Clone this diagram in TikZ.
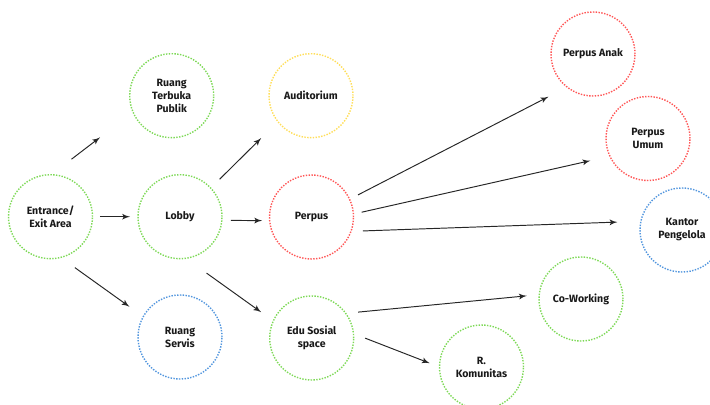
\documentclass[tikz,border=0pt]{standalone}
\usepackage{fontspec}
\setmainfont{Fira Sans}
\usepackage{tikz}
\usetikzlibrary{shapes,arrows}
\definecolor{rgreen}{RGB}{126,217,87}
\definecolor{ryellow}{RGB}{255,222,89}
\definecolor{rred}{RGB}{255,87,87}
\definecolor{rblue}{RGB}{82,150,222}
\tikzstyle{room} = [circle, draw, line width=0.8pt, dash pattern=on 0.8pt off 0.8pt,
    minimum size=1.68cm, inner sep=0pt, outer sep=0pt, align=center,
    font=\fontsize{6}{7.4}\selectfont\bfseries, text=black!90]
\tikzstyle{hijau} = [room, draw=rgreen]
\tikzstyle{kuning} = [room, draw=ryellow]
\tikzstyle{merah} = [room, draw=rred]
\tikzstyle{biru} = [room, draw=rblue]
\tikzstyle{line} = [draw, line width=0.55pt, black!85, -latex']
\begin{document}
\begin{tikzpicture}[x=0.02cm, y=-0.02cm]
    \useasboundingbox (0,0) rectangle (710,405);
    % Place rooms
    \node [hijau] (entr) at (50.5,216.7) {Entrance/\\Exit Area};
    \node [hijau] (lobby) at (180,216.7) {Lobby};
    \node [hijau] (rtp) at (171.7,95.7) {Ruang\\Terbuka\\Publik};
    \node [biru] (servis) at (180,337) {Ruang\\Servis};
    \node [kuning] (audi) at (311,95.7) {Auditorium};
    \node [merah] (perpus) at (311.5,217) {Perpus};
    \node [hijau] (edu) at (311.7,338) {Edu Sosial\\space};
    \node [merah] (anak) at (593,54) {Perpus Anak};
    \node [merah] (umum) at (648,138.5) {Perpus\\Umum};
    \node [biru] (kantor) at (682,230) {Kantor\\Pengelola};
    \node [hijau] (cowork) at (581,299) {Co-Working};
    \node [hijau] (komun) at (481.5,367) {R.\\Komunitas};
    % Draw flows
    \path [line, shorten <=0.51cm, shorten >=0.83cm] (entr.89) -- (rtp.203);
    \path [line, shorten <=0.15cm, shorten >=0.16cm] (entr) -- (lobby);
    \path [line, shorten <=0.35cm, shorten >=0.34cm] (entr.-76) -- (servis.151);
    \path [line, shorten <=0.25cm, shorten >=0.47cm] (lobby.43) -- (audi.218);
    \path [line, shorten <=0.18cm, shorten >=0.15cm] (lobby.-5) -- (perpus.185);
    \path [line, shorten <=0.51cm, shorten >=0.30cm] (lobby.-82) -- (edu.156);
    \path [line, shorten <=0.19cm, shorten >=0.42cm] (perpus.25) -- (anak.232);
    \path [line, shorten <=0.17cm, shorten >=0.40cm] (perpus.4) -- (umum.205);
    \path [line, shorten <=0.24cm, shorten >=0.47cm] (perpus.-20) -- (kantor.168);
    \path [line, shorten <=0.25cm, shorten >=0.25cm] (edu.36) -- (cowork.174);
    \path [line, shorten <=0.25cm, shorten >=0.21cm] (edu.6) -- (komun.180);
\end{tikzpicture}
\end{document}
